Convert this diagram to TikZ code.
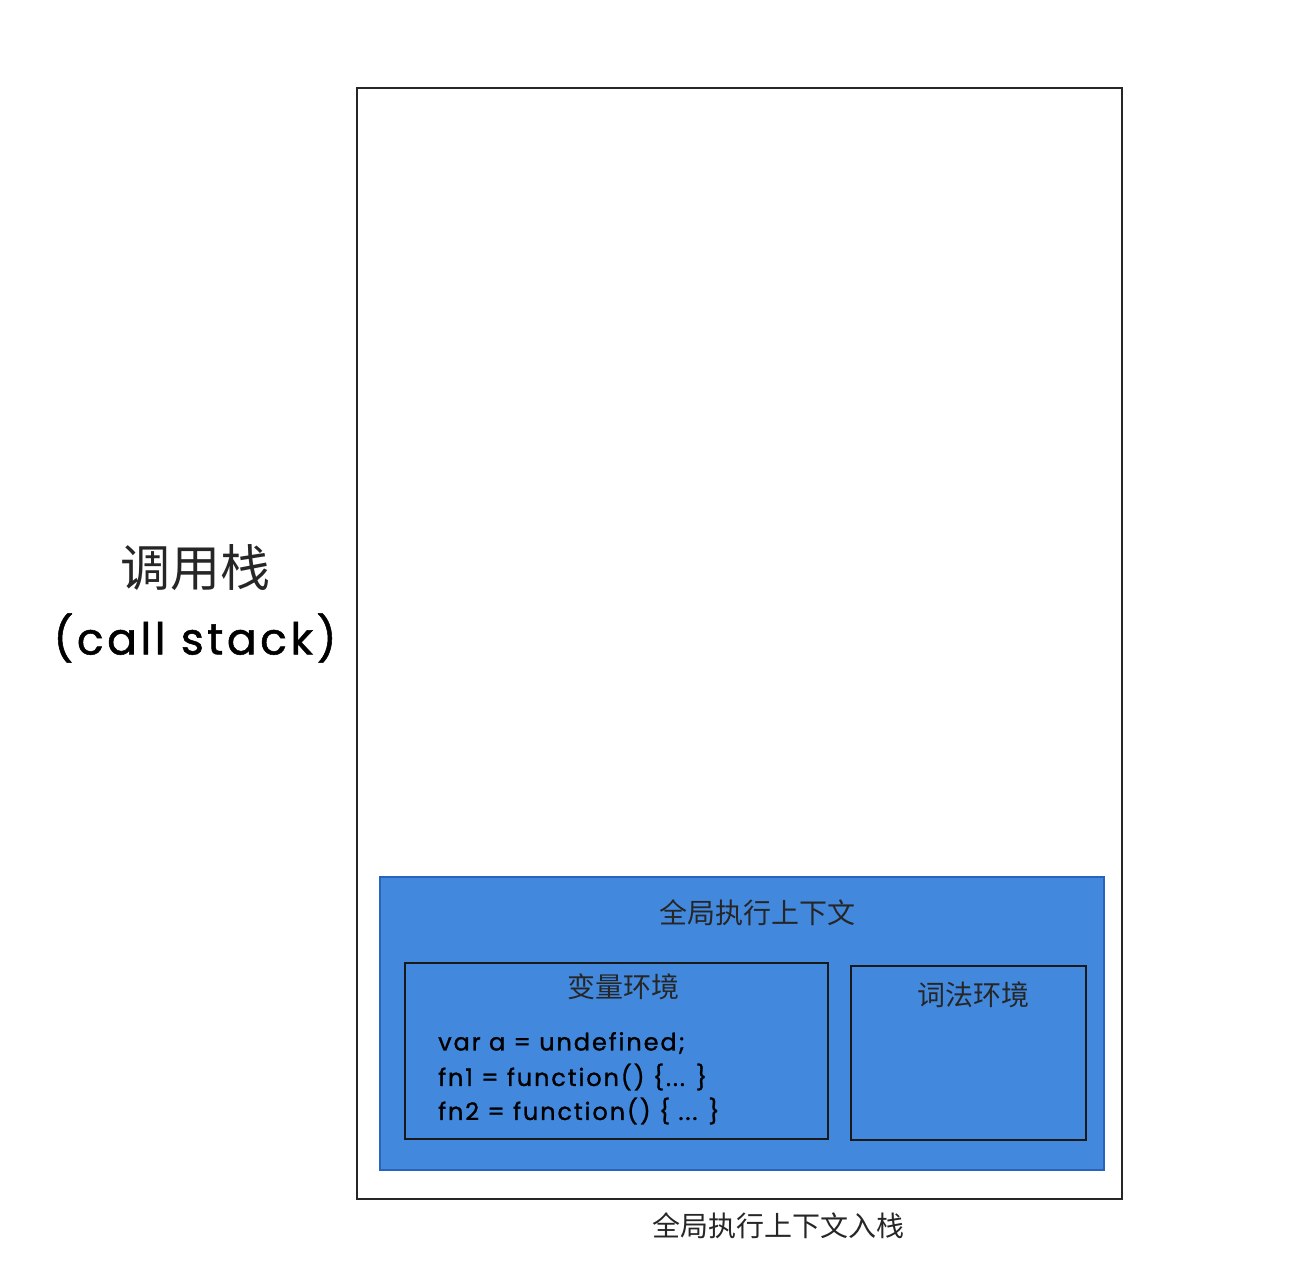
\documentclass[tikz,border=0pt]{standalone}
\usepackage{fontspec}
\setmainfont{Poppins}
\newfontfamily\cjk{Noto Sans CJK SC}
\newfontfamily\hand[LetterSpace=8,FakeBold=1.2]{Poppins}
\definecolor{ctxblue}{RGB}{66,137,222}
\definecolor{ctxedge}{RGB}{40,100,190}
\begin{document}
\begin{tikzpicture}[x=1pt,y=-1pt,
  frame/.style={draw=black!85,line width=1.6pt},
  envbox/.style={draw=black!90,line width=1.5pt},
  cjklabel/.style={font=\cjk\fontsize{28}{32}\selectfont,text=black!85,inner sep=0pt},
  codeline/.style={font=\hand\fontsize{24}{30}\selectfont,anchor=west,inner sep=0pt,text=black}]
\useasboundingbox (0,0) rectangle (1314,1276);
% call stack frame
\node[frame,minimum width=765pt,minimum height=1111pt,inner sep=0pt] (stack) at (739.5,643.5) {};
% global execution context
\node[draw=ctxedge,line width=1.2pt,fill=ctxblue,minimum width=724pt,minimum height=293pt,inner sep=0pt] (gctx) at (742,1023.5) {};
\node[cjklabel] (gtitle) at (757,913) {全局执行上下文};
% variable environment
\node[envbox,minimum width=423pt,minimum height=176pt,inner sep=0pt] (venv) at (616.5,1051) {};
\node[cjklabel] (vtitle) at (623,987) {变量环境};
\node[codeline] (c1) at (438,1043) {var a = undefined;};
\node[codeline] (c2) at (438,1077) {fn1 = function() \{... \}};
\node[codeline] (c3) at (438,1111) {fn2 = function() \{ ... \}};
% lexical environment
\node[envbox,minimum width=235pt,minimum height=174pt,inner sep=0pt] (lenv) at (968.5,1053) {};
\node[cjklabel] (ltitle) at (973,995) {词法环境};
% side label
\node[font=\cjk\fontsize{50}{56}\selectfont,inner sep=0pt,text=black!85] (cs1) at (195,568) {调用栈};
\node[font=\hand\fontsize{44}{54}\selectfont,inner sep=0pt] (cs2) at (195,638) {(call stack)};
% bottom caption
\node[cjklabel] (cap) at (778,1226) {全局执行上下文入栈};
\end{tikzpicture}
\end{document}
